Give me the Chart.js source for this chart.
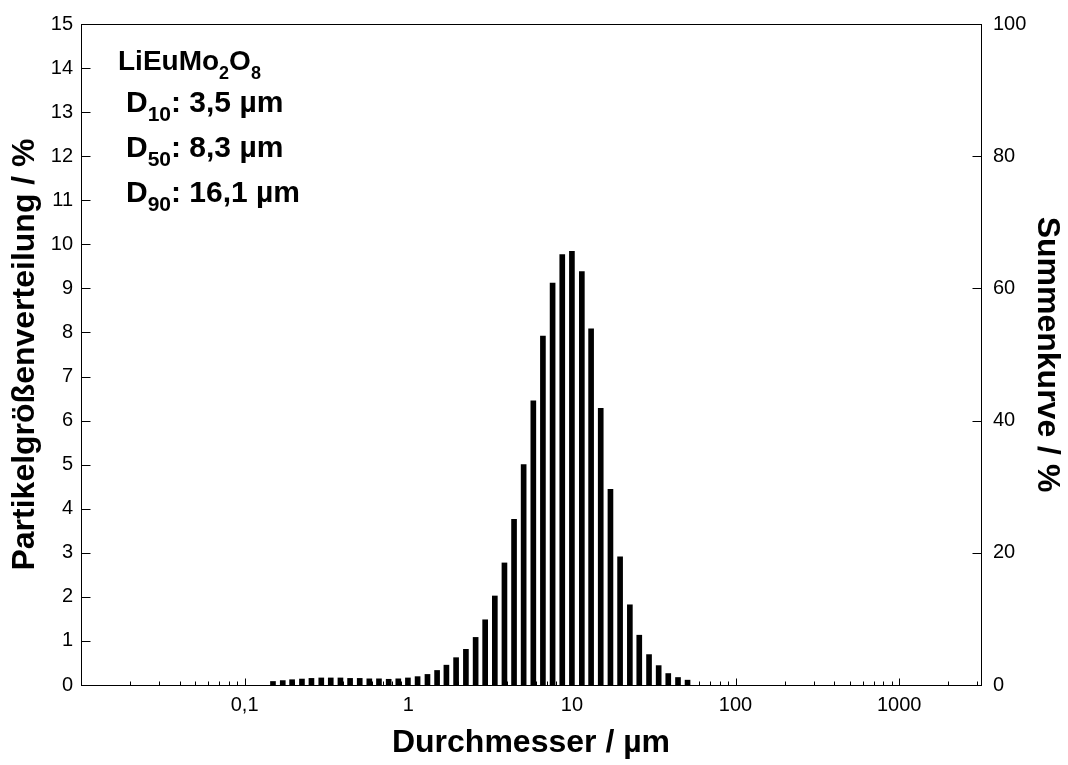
<!DOCTYPE html>
<html>
<head>
<meta charset="utf-8">
<script src="https://cdn.jsdelivr.net/npm/chart.js@4/dist/chart.umd.min.js"></script>
<style>
  html, body { margin: 0; padding: 0; background: #fff; }
  #wrap { width: 1068px; height: 765px; position: relative; }
</style>
</head>
<body>
<div id="wrap"><canvas id="c" width="1068" height="765"></canvas></div>
<script>
// ---- data ----
const sizes = [0.149, 0.171, 0.195, 0.224, 0.256, 0.294, 0.336, 0.385, 0.441, 0.505,
               0.578, 0.662, 0.759, 0.869, 0.995, 1.14, 1.31, 1.50, 1.71, 1.96,
               2.25, 2.58, 2.95, 3.38, 3.87, 4.43, 5.07, 5.81, 6.65, 7.62,
               8.73, 10.0, 11.5, 13.1, 15.0, 17.2, 19.7, 22.6, 25.8, 29.6,
               33.9, 38.8, 44.5, 50.9];
const freq  = [0.08, 0.10, 0.12, 0.135, 0.15, 0.16, 0.16, 0.16, 0.15, 0.15,
               0.14, 0.14, 0.13, 0.14, 0.16, 0.19, 0.24, 0.33, 0.45, 0.62,
               0.81, 1.08, 1.48, 2.02, 2.77, 3.76, 5.00, 6.45, 7.92, 9.12,
               9.77, 9.84, 9.38, 8.08, 6.28, 4.44, 2.91, 1.82, 1.13, 0.69,
               0.44, 0.26, 0.17, 0.11];
const xTickValues = [0.1, 1, 10, 100, 1000];
const xTickLabels = ['0,1', '1', '10', '100', '1000'];
const annotationText = [
  [['LiEuMo', 0], ['2', 1], ['O', 0], ['8', 1]],
  [['D', 0], ['10', 1], [': 3,5 µm', 0]],
  [['D', 0], ['50', 1], [': 8,3 µm', 0]],
  [['D', 0], ['90', 1], [': 16,1 µm', 0]]
];

const FAMILY = "'Liberation Sans', Arial, Helvetica, sans-serif";

const framePlugin = {
  id: 'frame',
  afterDatasetsDraw(chart) {
    const { ctx, chartArea: a, scales } = chart;
    ctx.save();
    ctx.strokeStyle = '#000';
    ctx.lineWidth = 1;
    const L = Math.round(a.left) + 0.5, R = Math.round(a.right) + 0.5;
    const T = Math.round(a.top) + 0.5, B = Math.round(a.bottom) + 0.5;
    ctx.strokeRect(L, T, R - L, B - T);
    ctx.beginPath();
    const xs = scales.x;
    for (let e = -2; e <= 3; e++) {
      for (let k = 1; k <= 9; k++) {
        const v = k * Math.pow(10, e);
        if (v <= xs.min * 1.0001 || v > xs.max) continue;
        const px = Math.round(xs.getPixelForValue(v)) + 0.5;
        const len = (k === 1) ? 7 : 4;
        ctx.moveTo(px, B);
        ctx.lineTo(px, B - len);
      }
    }
    const ys = scales.y;
    ys.ticks.forEach(t => {
      const py = Math.round(ys.getPixelForValue(t.value)) + 0.5;
      ctx.moveTo(L, py); ctx.lineTo(L + 9, py);
    });
    const y2 = scales.y2;
    y2.ticks.forEach(t => {
      const py = Math.round(y2.getPixelForValue(t.value)) + 0.5;
      ctx.moveTo(R, py); ctx.lineTo(R - 9, py);
    });
    ctx.stroke();
    ctx.restore();
  }
};

const annoPlugin = {
  id: 'anno',
  afterDraw(chart) {
    const ctx = chart.ctx;
    const starts = [[118, 70], [126, 112], [126, 157], [126, 202]];
    ctx.save();
    ctx.fillStyle = '#000';
    ctx.textBaseline = 'alphabetic';
    ctx.textAlign = 'left';
    annotationText.forEach((line, li) => {
      let [x, y] = starts[li];
      const main = li === 0 ? 28 : 30;
      const subSize = li === 0 ? 18 : 21;
      line.forEach(([txt, sub]) => {
        ctx.font = sub ? `bold ${subSize}px ${FAMILY}` : `bold ${main}px ${FAMILY}`;
        ctx.fillText(txt, x, sub ? y + 9 : y);
        x += ctx.measureText(txt).width;
      });
    });
    ctx.restore();
  }
};

const tickFont = { size: 20, family: FAMILY };
const titleFont = { size: 32, weight: 'bold', family: FAMILY, lineHeight: 1 };

new Chart(document.getElementById('c'), {
  type: 'bar',
  data: {
    datasets: [{
      data: sizes.map((s, i) => ({ x: s, y: freq[i] })),
      backgroundColor: '#000',
      borderWidth: 0,
      barThickness: 5,
      xAxisID: 'x',
      yAxisID: 'y'
    }]
  },
  options: {
    responsive: false,
    animation: false,
    events: [],
    layout: { padding: { top: 20, left: 0, right: 0, bottom: 0 } },
    plugins: { legend: { display: false }, tooltip: { enabled: false } },
    scales: {
      x: {
        type: 'logarithmic',
        position: 'bottom',
        min: 0.01,
        max: 3162,
        grid: { display: false, drawTicks: false },
        border: { display: false },
        afterBuildTicks: s => { s.ticks = xTickValues.map(v => ({ value: v })); },
        afterFit: s => { s.height = 80; },
        ticks: {
          autoSkip: false, maxRotation: 0, padding: 8, color: '#000', font: tickFont,
          callback: v => { const i = xTickValues.indexOf(v); return i >= 0 ? xTickLabels[i] : ''; }
        },
        title: { display: true, text: 'Durchmesser / µm', color: '#000', font: titleFont, padding: { top: 0, bottom: 6 } }
      },
      y: {
        type: 'linear',
        position: 'left',
        min: 0, max: 15,
        grid: { display: false, drawTicks: false },
        border: { display: false },
        afterFit: s => { s.width = 81; },
        ticks: { stepSize: 1, padding: 8, color: '#000', font: tickFont },
        title: { display: true, text: 'Partikelgrößenverteilung / %', color: '#000', font: titleFont, padding: { top: 9, bottom: 0 } }
      },
      y2: {
        type: 'linear',
        position: 'right',
        min: 0, max: 100,
        grid: { display: false, drawTicks: false },
        border: { display: false },
        afterFit: s => { s.width = 87; },
        ticks: { stepSize: 20, padding: 12, color: '#000', font: tickFont },
        title: { display: true, text: 'Summenkurve / %', color: '#000', font: titleFont, padding: { top: 5, bottom: 0 } }
      }
    }
  },
  plugins: [framePlugin, annoPlugin]
});
</script>
</body>
</html>
